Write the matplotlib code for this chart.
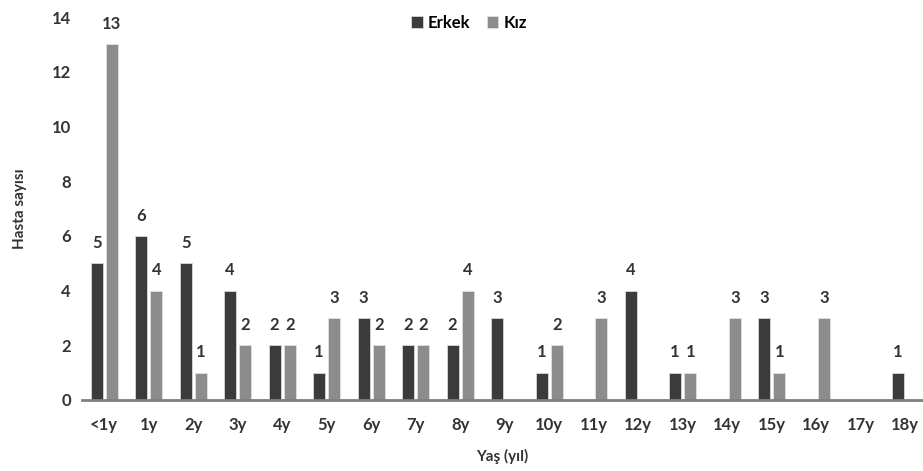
import numpy as np
import matplotlib.pyplot as plt

# Data
categories = ['<1y', '1y', '2y', '3y', '4y', '5y', '6y', '7y', '8y', '9y',
              '10y', '11y', '12y', '13y', '14y', '15y', '16y', '17y', '18y']
erkek = [5, 6, 5, 4, 2, 1, 3, 2, 2, 3, 1, 0, 4, 1, 0, 3, 0, 0, 1]
kiz = [13, 4, 1, 2, 2, 3, 2, 2, 4, 0, 2, 3, 0, 1, 3, 1, 3, 0, 0]
yticks = [0, 2, 4, 6, 8, 10, 12, 14]

plt.rcParams['font.family'] = ['Lato', 'DejaVu Sans']
plt.rcParams['font.weight'] = 'bold'

fig = plt.figure(figsize=(9.23, 4.71), dpi=100)
ax = fig.add_axes([82 / 923, 71 / 471, 1 - 82 / 923, 383 / 471])

x = np.arange(len(categories))
w = 0.27
off = 0.17
b1 = ax.bar(x - off, erkek, w, color='#3b3b3b', edgecolor='#d8d8d8', linewidth=0.6, label='Erkek')
b2 = ax.bar(x + off, kiz, w, color='#8c8c8c', edgecolor='#e0e0e0', linewidth=0.6, label='Kız')

for bars, vals in [(b1, erkek), (b2, kiz)]:
    for rect, v in zip(bars, vals):
        if v > 0:
            ax.text(rect.get_x() + rect.get_width() / 2, v + 0.45, str(v),
                    ha='center', va='bottom', fontsize=12, fontweight='bold', color='#333333')

ax.set_xlim(-0.5, 18.4)
ax.set_ylim(0, 14)
ax.set_yticks(yticks)
ax.set_xticks(x)
ax.set_xticklabels(categories)
ax.tick_params(axis='both', length=0, labelsize=12, colors='#333333')
ax.tick_params(axis='x', pad=12)
ax.tick_params(axis='y', pad=8)
for s in ['top', 'right', 'left']:
    ax.spines[s].set_visible(False)
ax.spines['bottom'].set_color('#7f7f7f')
ax.spines['bottom'].set_linewidth(2)

ax.set_ylabel('Hasta sayısı', fontsize=11, fontweight='bold', color='#333333', labelpad=18)
ax.set_xlabel('Yaş (yıl)', fontsize=11, fontweight='bold', color='#333333', labelpad=12)

ax.legend(loc='upper center', bbox_to_anchor=(0.46, 1.045), ncol=2, frameon=False,
          fontsize=12, handlelength=0.7, handleheight=0.7, handletextpad=0.3, columnspacing=1.0)

fig.savefig('out.png', dpi=100)
